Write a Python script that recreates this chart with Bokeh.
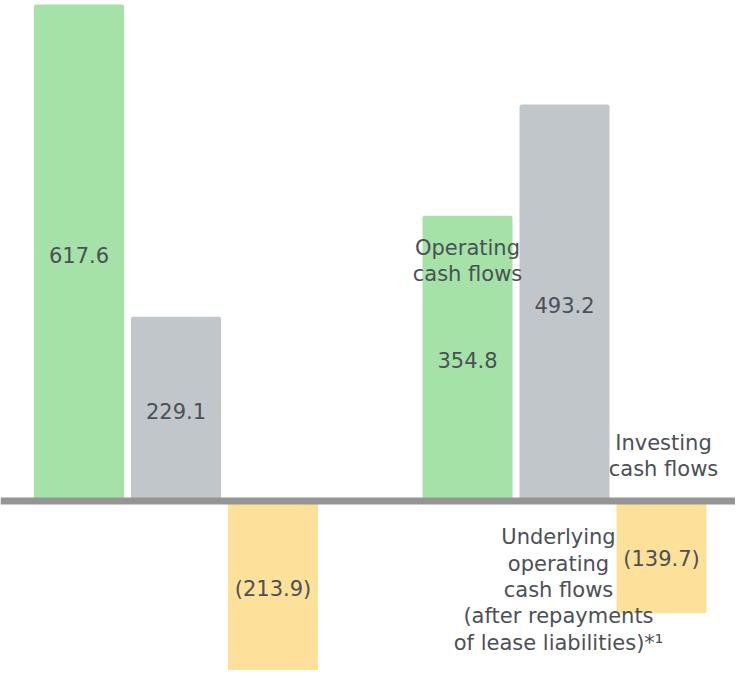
from bokeh.plotting import figure
from bokeh.models import ColumnDataSource, Span
from bokeh.core.properties import value
from bokeh.embed import file_html
from bokeh.resources import INLINE

# ---- data ----
periods = ["Period 1", "Period 2"]
operating = [617.6, 354.8]
underlying = [229.1, 493.2]
investing = [-213.9, -139.7]
series_names = ["Operating\ncash flows",
                "Underlying\noperating\ncash flows\n(after repayments\nof lease liabilities)*\u00b9",
                "Investing\ncash flows"]
colors = ["#a5e2a8", "#c1c6ca", "#fde099"]

# ---- layout ----
W, H = 735, 670
group_start = [78.5, 467.0]
step = 97.0
bar_w = 90.0
FONT = "DejaVu Sans"
TXT = "#4b5056"
FS = "21px"

def fmt(v):
    return f"({abs(v):.1f})" if v < 0 else f"{v:.1f}"

p = figure(width=W, height=H, x_range=(0, W), y_range=(-210.8, 622.5),
           output_backend="svg", toolbar_location=None,
           x_axis_location=None, y_axis_location=None, min_border=0)
p.outline_line_color = None
p.grid.visible = False
p.background_fill_color = "white"

all_series = [operating, underlying, investing]
for si, vals in enumerate(all_series):
    xs = [g + si * step for g in group_start]
    src = ColumnDataSource(dict(x=xs, top=vals, mid=[v / 2 for v in vals],
                                label=[fmt(v) for v in vals]))
    p.vbar(x="x", top="top", bottom=0, width=bar_w, source=src,
           fill_color=colors[si], line_color=None, border_radius=2)
    p.text(x="x", y="mid", text="label", source=src, text_align="center",
           text_baseline="middle", text_font=value(FONT), text_font_size=FS,
           text_color=TXT, y_offset=2)

p.add_layout(Span(location=0, dimension="width", line_color="#959595", line_width=7))

# series annotations (second period)
ann = ColumnDataSource(dict(
    x=[group_start[1], group_start[1] + step - 6, group_start[1] + 2 * step + 2],
    y=[operating[1], 0, 0],
    yoff=[45, 89, -45],
    text=series_names,
))
p.text(x="x", y="y", y_offset="yoff", text="text", source=ann, text_align="center",
       text_baseline="middle", text_font=value(FONT), text_font_size=FS,
       text_color=TXT, text_line_height=1.1)

open("out.html", "w").write(file_html(p, INLINE))
